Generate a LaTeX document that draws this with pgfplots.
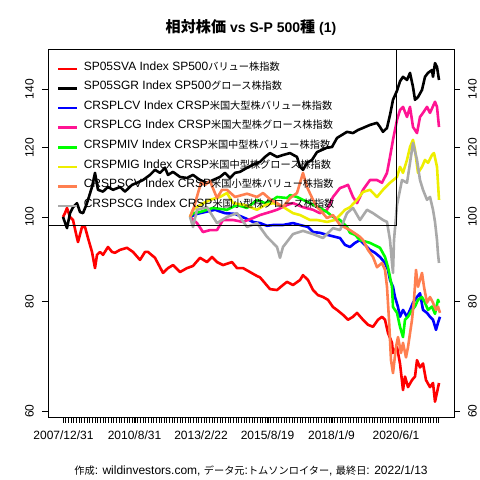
\documentclass[border=0pt]{standalone}
\usepackage{fontspec}
\setmainfont{Liberation Sans}
\newfontfamily\jp{Noto Sans CJK JP}[Scale=0.85]
\newfontfamily\jpt{Noto Sans CJK JP}[Scale=1.08]
\usepackage{pgfplots}
\pgfplotsset{compat=1.18}
\definecolor{cpink}{HTML}{FF1493}
\definecolor{ccoral}{HTML}{FF7F50}
\definecolor{cgray}{HTML}{A9A9A9}
\definecolor{cyellow}{HTML}{EEEE00}
\definecolor{cgreen}{HTML}{00FF00}
\begin{document}
\begin{tikzpicture}
\useasboundingbox (-48bp,-63bp) rectangle (432bp,417bp);
\begin{axis}[
  scale only axis, width=406bp, height=368bp,
  at={(0,0)}, anchor=south west,
  xmin=-15, xmax=391,
  ymode=log, ymin=59.07, ymax=155.6,
  axis line style={line width=0.8bp},
  every tick/.style={black, line width=0.8bp},
  tick align=outside,
  major tick length=6bp, minor tick length=6bp,
  xtick pos=bottom, ytick pos=left,
  xtick={0.5,71.5,138,204.5,268.5,333},
  xticklabels={2007/12/31,2010/8/31,2013/2/22,2015/8/19,2018/1/9,2020/6/1},
  minor xtick={0,2.664,...,376},
  ytick={60,80,100,120,140},
  yticklabels={60,80,100,120,140},
  ticklabel style={font=\fontsize{12bp}{14bp}\selectfont},
  yticklabel style={rotate=90, anchor=south, inner sep=0pt},
  xticklabel style={anchor=north, inner sep=0pt},
  xticklabel shift=8bp,
  yticklabel shift=8bp,
  legend style={at={(0,1)}, anchor=north west, draw=none, fill=none,
    xshift=9bp, yshift=-10bp,
    font=\fontsize{12bp}{14bp}\selectfont, inner sep=0pt, row sep=0pt,
    nodes={inner ysep=0pt, inner xsep=5bp, text height=11bp, text depth=8.6bp}},
  legend cell align=left,
  legend image code/.code={\draw[#1] (0bp,0bp) -- (19bp,0bp);},
  every axis plot/.append style={line width=2.6bp, line join=round},
]
\addplot[red] coordinates {(0,100) (2,101.0) (4,102.4) (7,100.0) (10,99.2) (14,94.6) (15,93.6) (19,97.4) (22,97.4) (25,94.6) (29,91.2) (32,87.4) (34,90.5) (37,91.2) (40,90.5) (45,92.4) (49,91.2) (52,91.0) (57,91.7) (64,92.2) (70,91.2) (77,89.3) (82,91.2) (85,91.2) (92,89.8) (97,87.6) (100,86.3) (105,87.4) (110,88.1) (117,86.5) (124,87.4) (130,87.9) (137,89.8) (144,88.8) (149,90.0) (154,88.8) (160,88.1) (169,88.8) (174,87.4) (180,87.4) (187,86.5) (194,85.6) (197,85.3) (202,84.0) (207,82.7) (214,82.5) (220,83.6) (224,84.3) (230,83.6) (237,84.7) (240,85.8) (245,84.7) (250,82.5) (255,81.4) (260,81.0) (265,80.4) (270,78.9) (274,78.3) (280,77.3) (285,76.3) (290,76.9) (294,77.7) (300,76.3) (305,75.3) (310,74.9) (315,76.3) (319,76.9) (322,76.3) (325,73.7) (329,71.8) (330,69.9) (334,71.0) (337,68.0) (340,63.4) (342,65.7) (345,63.9) (349,65.1) (352,65.7) (354,68.6) (357,67.3) (360,68.0) (363,65.1) (367,63.9) (370,64.6) (372,61.5) (374,63.0) (376,64.6)};
\addlegendentry{SP05SVA Index SP500{\jp バリュー株指数}}
\addplot[black] coordinates {(0,100) (4,97.1) (7,101.0) (10,102.6) (14,103.7) (17,101.3) (20,101.0) (24,103.7) (29,108.2) (32,112.3) (35,107.4) (40,106.9) (45,108.2) (50,107.4) (57,108.2) (62,106.9) (69,108.8) (74,109.4) (80,110.2) (87,111.7) (92,113.2) (97,112.3) (102,113.8) (105,111.7) (110,112.6) (117,111.1) (124,110.8) (130,111.7) (137,110.2) (144,109.4) (150,110.2) (157,111.1) (162,112.3) (167,110.8) (172,112.3) (177,112.6) (184,113.8) (190,114.7) (197,115.6) (202,117.1) (207,118.3) (214,117.1) (220,117.7) (227,118.3) (234,117.1) (237,114.1) (240,113.2) (244,115.3) (249,116.2) (254,118.6) (259,119.3) (264,120.0) (269,120.2) (274,123.1) (279,124.1) (284,125.1) (290,124.7) (295,125.7) (300,126.4) (307,127.4) (314,128.1) (317,126.7) (320,125.1) (324,126.4) (327,130.8) (330,136.1) (334,139.4) (337,142.9) (340,144.6) (344,143.4) (347,146.1) (350,140.8) (352,136.1) (355,137.1) (359,139.7) (362,144.6) (365,146.1) (369,147.2) (370,144.6) (372,149.9) (374,148.4) (376,143.4)};
\addlegendentry{SP05SGR Index SP500{\jp グロース株指数}}
\addplot[blue] coordinates {(127,100) (134,100.8) (142,101.3) (152,101.9) (162,101.0) (172,100.8) (182,99.7) (190,98.7) (197,98.4) (204,97.7) (210,97.9) (220,97.9) (230,98.4) (237,97.9) (245,97.4) (250,96.1) (257,95.9) (264,95.4) (272,94.9) (277,94.6) (282,92.9) (287,92.4) (292,93.4) (297,94.1) (302,92.9) (307,91.7) (312,91.0) (317,90.0) (322,88.6) (325,87.0) (327,84.7) (330,83.2) (332,81.0) (335,78.9) (337,76.9) (340,78.3) (344,76.9) (347,78.3) (350,79.8) (354,81.0) (357,81.8) (360,78.3) (364,77.7) (367,76.9) (370,76.3) (373,74.3) (375,75.7) (377,76.9)};
\addlegendentry{CRSPLCV Index CRSP{\jp 米国大型株バリュー株指数}}
\addplot[cpink] coordinates {(127,100) (134,98.4) (140,96.1) (147,96.6) (154,96.6) (160,99.2) (170,99.2) (180,98.7) (190,99.7) (197,100.5) (207,101.3) (214,101.9) (224,103.2) (230,103.7) (240,102.6) (250,101.9) (257,101.0) (264,101.9) (270,105.4) (277,107.9) (280,108.2) (285,108.8) (290,105.4) (294,103.7) (297,105.4) (300,107.4) (307,110.2) (314,110.2) (319,109.4) (324,112.3) (327,117.1) (330,122.5) (334,129.1) (337,132.5) (340,133.6) (344,130.1) (347,133.6) (350,126.7) (354,124.7) (357,130.1) (360,131.5) (364,133.6) (367,131.5) (372,135.4) (374,133.6) (376,126.7)};
\addlegendentry{CRSPLCG Index CRSP{\jp 米国大型株グロース株指数}}
\addplot[cgreen] coordinates {(127,100) (130,101.0) (137,101.3) (150,102.4) (164,101.9) (174,103.2) (184,102.4) (194,104.6) (202,103.7) (210,104.6) (214,105.4) (224,105.1) (227,105.9) (234,105.4) (240,104.6) (247,103.7) (257,102.4) (264,101.3) (270,100.0) (277,99.2) (284,97.4) (287,95.9) (292,95.4) (297,94.1) (307,93.4) (317,92.2) (322,90.0) (325,87.6) (329,83.2) (330,78.9) (334,77.7) (337,74.9) (340,72.9) (342,76.3) (345,76.9) (349,78.3) (352,79.0) (355,80.4) (359,81.0) (362,79.8) (365,78.3) (369,79.0) (372,77.5) (375,80.4) (376,79.8)};
\addlegendentry{CRSPMIV Index CRSP{\jp 米国中型株バリュー株指数}}
\addplot[cyellow] coordinates {(127,100) (130,101.9) (137,103.2) (147,104.6) (157,105.4) (164,106.5) (170,103.7) (182,103.2) (194,101.9) (202,103.2) (210,103.7) (217,103.2) (230,101.0) (237,100.5) (247,99.2) (254,99.2) (264,98.7) (272,99.2) (277,100.5) (282,101.9) (287,102.6) (294,104.6) (300,106.8) (307,107.4) (314,105.4) (320,107.4) (327,109.4) (334,111.1) (337,114.1) (340,112.3) (344,116.2) (347,120.2) (350,122.5) (352,119.3) (355,112.3) (359,114.1) (362,116.2) (365,115.3) (369,117.7) (371,118.3) (374,114.1) (376,104.6)};
\addlegendentry{CRSPMIG Index CRSP{\jp 米国中型株グロース株指数}}
\addplot[ccoral] coordinates {(127,100) (131,102.6) (135,106.5) (138,109.4) (142,108.8) (147,109.9) (154,105.1) (159,107.4) (164,107.4) (172,105.4) (184,106.3) (194,105.4) (200,106.5) (207,104.8) (214,103.7) (220,102.6) (227,105.1) (234,106.5) (240,112.3) (244,108.2) (250,104.6) (254,102.6) (257,101.9) (264,99.7) (270,100.5) (277,97.9) (287,96.6) (297,94.9) (300,94.1) (305,91.7) (310,90.0) (314,87.6) (319,88.6) (322,87.0) (324,83.2) (326,76.3) (328,68.6) (330,66.3) (333,71.0) (335,72.9) (338,69.9) (340,71.8) (343,69.1) (345,71.0) (349,76.3) (351,80.4) (353,87.0) (355,83.2) (359,86.3) (361,83.2) (364,79.8) (367,81.0) (370,79.8) (373,78.3) (375,79.0) (377,77.7)};
\addlegendentry{CRSPSCV Index CRSP{\jp 米国小型株バリュー株指数}}
\addplot[cgray] coordinates {(127,100) (130,97.4) (134,101.9) (144,102.6) (154,98.4) (164,100.0) (174,101.0) (184,97.4) (194,98.4) (204,94.9) (214,92.4) (217,89.8) (220,92.4) (230,95.6) (240,96.4) (250,95.6) (260,94.6) (270,97.1) (277,96.6) (284,101.0) (290,102.4) (297,99.2) (304,101.9) (310,101.0) (320,99.2) (324,98.7) (327,94.1) (329,88.6) (330,86.3) (331,94.1) (334,103.2) (339,110.2) (344,109.4) (347,115.3) (350,121.5) (354,116.2) (357,110.2) (360,107.4) (364,104.6) (367,105.4) (370,101.9) (372,98.7) (374,94.1) (375,90.7) (376,88.6)};
\addlegendentry{CRSPSCG Index CRSP{\jp 米国小型株グロース株指数}}
\end{axis}
\begin{axis}[
  scale only axis, width=406bp, height=368bp,
  at={(0,0)}, anchor=south west,
  xmin=-15, xmax=391,
  ymode=log, ymin=59.07, ymax=155.6,
  axis x line=none, axis y line*=right,
  axis line style={line width=0.8bp, -},
  every tick/.style={black, line width=0.8bp},
  tick align=outside, major tick length=6bp,
  ytick={60,80,100,120,140},
  yticklabels={60,80,100,120,140},
  ticklabel style={font=\fontsize{12bp}{14bp}\selectfont},
  yticklabel style={rotate=90, anchor=north, inner sep=0pt},
  yticklabel shift=8bp,
]
\end{axis}
\draw[line width=0.8bp] (0bp,192bp) rectangle (348bp,368bp);
\node[font=\fontsize{14bp}{16bp}\selectfont\bfseries] at (203bp,390bp) {{\jpt 相対株価} vs S-P 500{\jpt 種} (1)};
\node[font=\fontsize{12bp}{14bp}\selectfont] at (203bp,-54bp) {{\jp 作成}: wildinvestors.com, {\jp データ元}:{\jp トムソンロイター}, {\jp 最終日}: 2022/1/13};
\end{tikzpicture}
\end{document}
